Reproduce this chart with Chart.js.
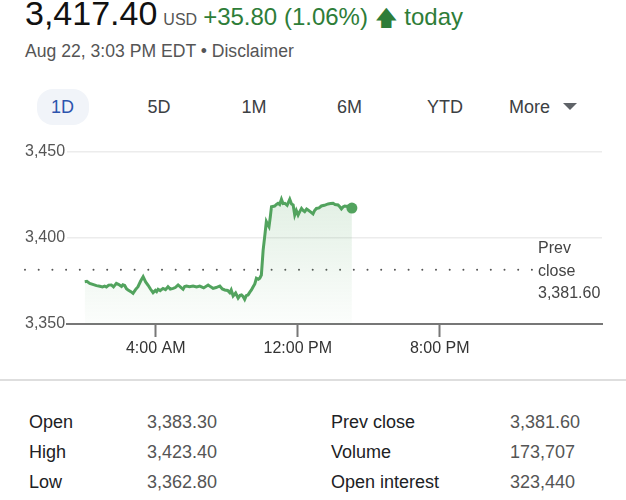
<!DOCTYPE html>
<html>
<head>
<meta charset="utf-8">
<script src="https://cdn.jsdelivr.net/npm/chart.js@4.4.0/dist/chart.umd.min.js"></script>
<style>
  html, body { margin: 0; padding: 0; background: #fff; }
  body { width: 626px; height: 500px; position: relative; overflow: hidden;
         font-family: 'Liberation Sans', Arial, sans-serif; color: #202124; }
  .abs { position: absolute; white-space: nowrap; }
  #price { left: 25px; top: -4px; line-height: 34px; }
  #price .big { font-size: 34px; color: #111; }
  #price .cur { font-size: 16px; color: #555; margin-left: 6px; }
  #price .chg { font-size: 24px; color: #2e7d38; margin-left: 6px; }
  #stamp { left: 25px; top: 41px; font-size: 17.6px; line-height: 20px; color: #555; }
  .tab { position: absolute; top: 97px; width: 80px; text-align: center;
         font-size: 18px; line-height: 20px; color: #3c4043; }
  #pill { left: 37px; top: 89px; width: 52px; height: 36px; border-radius: 16px; background: #f1f4f9; }
  #tri { left: 563px; top: 103px; width: 0; height: 0;
         border-left: 7px solid transparent; border-right: 7px solid transparent; border-top: 7px solid #5f6368; }
  #sep { left: 0; top: 379px; width: 626px; height: 2px; background: #dedede; }
  #wrap { position: absolute; left: 0; top: 130px; width: 626px; height: 240px; }
  .cell { position: absolute; font-size: 18px; line-height: 20px; }
  .lab { color: #202124; }
  .val { color: #555; }
</style>
</head>
<body>
<div id="price" class="abs"><span class="big">3,417.40</span><span class="cur">USD</span><span class="chg">+35.80 (1.06%) <span style="font-size:22px">🡅</span> today</span></div>
<div id="stamp" class="abs">Aug 22, 3:03 PM EDT • Disclaimer</div>

<div id="pill" class="abs"></div>
<div id="tabs"></div>
<div id="tri" class="abs"></div>

<div id="wrap"><canvas id="grafico"></canvas></div>

<div id="sep" class="abs"></div>
<div id="stats"></div>

<script>
// intraday series (hours after midnight, price)
const times = [
  0.00, 0.12, 0.28, 0.45, 0.66, 0.85, 1.00, 1.12, 1.22, 1.35, 1.50, 1.62, 1.78, 1.92, 2.07, 2.15,
  2.25, 2.35, 2.44, 2.60, 2.72, 2.86, 3.00, 3.15, 3.29, 3.43, 3.57, 3.71, 3.85, 3.98, 4.05, 4.13,
  4.25, 4.41, 4.55, 4.69, 4.82, 4.98, 5.10, 5.26, 5.40, 5.54, 5.63, 5.73, 5.90, 6.10, 6.30, 6.48,
  6.70, 6.95, 7.10, 7.23, 7.40, 7.61, 7.75, 7.89, 8.05, 8.17, 8.25, 8.36, 8.50, 8.64, 8.75, 8.83,
  8.92, 9.01, 9.10, 9.20, 9.30, 9.39, 9.48, 9.58, 9.67, 9.78, 9.86, 9.95, 10.05, 10.15, 10.23, 10.30,
  10.38, 10.45, 10.52, 10.70, 10.80, 10.89, 10.98, 11.08, 11.17, 11.27, 11.40, 11.55, 11.65, 11.74, 11.83, 11.92,
  12.02, 12.12, 12.21, 12.30, 12.39, 12.50, 12.58, 12.72, 12.86, 12.95, 13.05, 13.20, 13.33, 13.50, 13.71, 13.85,
  13.99, 14.10, 14.27, 14.38, 14.46, 14.55, 14.65, 14.80, 14.92, 15.05
]
const prices = [
  3374.6, 3374.8, 3373.6, 3373.0, 3372.3, 3371.9, 3371.6, 3372.0, 3371.5, 3372.6, 3372.7, 3371.6, 3373.6, 3372.9, 3371.8, 3372.8,
  3372.4, 3370.5, 3369.8, 3368.8, 3367.8, 3370.0, 3371.7, 3375.0, 3377.5, 3374.5, 3372.5, 3370.2, 3368.2, 3369.5, 3368.8, 3370.2,
  3369.4, 3370.7, 3370.0, 3371.7, 3370.3, 3370.7, 3371.2, 3372.7, 3371.5, 3370.2, 3371.8, 3372.1, 3371.7, 3372.1, 3371.5, 3372.0,
  3371.0, 3372.7, 3371.6, 3370.7, 3371.2, 3372.1, 3370.4, 3369.8, 3369.5, 3368.2, 3369.8, 3366.3, 3368.0, 3365.1, 3366.7, 3366.9,
  3366.0, 3364.3, 3366.5, 3366.9, 3368.5, 3369.8, 3371.5, 3373.3, 3376.6, 3376.0, 3376.6, 3378.5, 3393.0, 3402.0, 3409.5, 3408.0,
  3406.6, 3412.0, 3418.2, 3418.6, 3419.5, 3420.2, 3419.5, 3422.5, 3420.0, 3420.2, 3419.0, 3422.5, 3419.8, 3419.2, 3413.4, 3416.0,
  3413.4, 3415.5, 3417.2, 3416.0, 3415.3, 3416.8, 3416.3, 3415.2, 3414.0, 3416.0, 3417.2, 3417.5, 3418.6, 3419.0, 3419.8, 3420.0,
  3420.2, 3419.5, 3419.2, 3418.0, 3416.9, 3418.0, 3418.6, 3418.3, 3417.8, 3417.4
]

const prevClose = 3381.60
const yTicks = [3350, 3400, 3450]
const xTickHours = [4, 12, 20]
const xTickLabels = ['4:00 AM', '12:00 PM', '8:00 PM']

const ranges = ['1D', '5D', '1M', '6M', 'YTD']
const rangeCenters = [62.5, 159, 254, 349.5, 445]

const statLabelsLeft = ['Open', 'High', 'Low']
const statValuesLeft = ['3,383.30', '3,423.40', '3,362.80']
const statLabelsRight = ['Prev close', 'Volume', 'Open interest']
const statValuesRight = ['3,381.60', '173,707', '323,440']

// tabs
const tabs = document.getElementById('tabs')
ranges.forEach((r, i) => {
  const d = document.createElement('div')
  d.className = 'tab'
  d.style.left = (rangeCenters[i] - 40) + 'px'
  d.textContent = r
  if (i === 0) d.style.color = '#2d54ae'
  tabs.appendChild(d)
})
const more = document.createElement('div')
more.className = 'tab'
more.style.left = '509px'
more.style.width = 'auto'
more.textContent = 'More'
tabs.appendChild(more)

// stats table
const stats = document.getElementById('stats')
function cell(text, x, row, cls) {
  const d = document.createElement('div')
  d.className = 'cell ' + cls
  d.style.left = x + 'px'
  d.style.top = (412 + row * 30) + 'px'
  d.textContent = text
  stats.appendChild(d)
}
statLabelsLeft.forEach((t, i) => cell(t, 29, i, 'lab'))
statValuesLeft.forEach((t, i) => cell(t, 147, i, 'val'))
statLabelsRight.forEach((t, i) => cell(t, 331, i, 'lab'))
statValuesRight.forEach((t, i) => cell(t, 510, i, 'val'))

// chart
Chart.defaults.font.family = "'Liberation Sans', Arial, sans-serif"
Chart.defaults.font.size = 16

const lineColor = '#52a35e'

const prevClosePlugin = {
  id: 'prevClose',
  beforeDatasetsDraw(chart) {
    const c = chart.ctx
    const y = chart.scales.y.getPixelForValue(prevClose)
    c.save()
    c.strokeStyle = '#555'
    c.lineWidth = 2
    c.lineCap = 'round'
    c.setLineDash([0, 13.7])
    c.beginPath()
    c.moveTo(25, y)
    c.lineTo(chart.chartArea.right - 70, y)
    c.stroke()
    c.setLineDash([])
    c.fillStyle = '#444'
    c.font = "16px 'Liberation Sans', Arial, sans-serif"
    c.textBaseline = 'alphabetic'
    c.textAlign = 'left'
    const x = chart.chartArea.right - 64
    c.fillText('Prev', x, y - 17)
    c.fillText('close', x, y + 6)
    c.fillText(prevClose.toLocaleString('en-US', { minimumFractionDigits: 2 }), x, y + 28)
    c.restore()
  }
}

const ctx = document.getElementById('grafico')

const data = {
  datasets: [{
    data: times.map((t, i) => ({ x: t, y: prices[i] })),
    borderColor: lineColor,
    borderWidth: 3,
    fill: 'start',
    backgroundColor(context) {
      const area = context.chart.chartArea
      if (!area) return 'rgba(82,163,94,0.1)'
      const g = context.chart.ctx.createLinearGradient(0, area.top, 0, area.bottom)
      g.addColorStop(0, 'rgba(82,163,94,0.22)')
      g.addColorStop(1, 'rgba(82,163,94,0.02)')
      return g
    },
    tension: 0,
    pointRadius: (c) => c.dataIndex === times.length - 1 ? 5.5 : 0,
    pointBackgroundColor: lineColor,
    pointBorderWidth: 0,
    pointHoverRadius: 0
  }]
}

const config = {
  type: 'line',
  data,
  options: {
    responsive: true,
    maintainAspectRatio: false,
    animation: false,
    events: [],
    layout: { padding: { left: 25, right: 24, top: 22, bottom: 0 } },
    plugins: { legend: { display: false }, tooltip: { enabled: false } },
    scales: {
      x: {
        type: 'linear',
        min: -1,
        max: 29.14,
        afterBuildTicks: (s) => { s.ticks = xTickHours.map(v => ({ value: v })) },
        afterFit: (s) => { s.height = 46 },
        ticks: {
          color: '#333',
          padding: 2,
          maxRotation: 0,
          autoSkip: false,
          callback: (v) => xTickLabels[xTickHours.indexOf(v)]
        },
        grid: { drawOnChartArea: false, tickLength: 13, tickColor: '#777', tickWidth: 2 },
        border: { color: '#777', width: 2 }
      },
      y: {
        min: yTicks[0],
        max: yTicks[yTicks.length - 1],
        afterBuildTicks: (s) => { s.ticks = yTicks.map(v => ({ value: v })) },
        afterFit: (s) => { s.width = 42 },
        ticks: {
          color: '#555',
          crossAlign: 'far',
          callback: (v) => v.toLocaleString('en-US')
        },
        grid: {
          drawTicks: false,
          color: (c) => c.tick && c.tick.value === yTicks[0] ? 'rgba(0,0,0,0)' : '#ececec',
          lineWidth: 1.5
        },
        border: { display: false }
      }
    }
  },
  plugins: [prevClosePlugin]
}

const graph = new Chart(ctx, config)
</script>
</body>
</html>
